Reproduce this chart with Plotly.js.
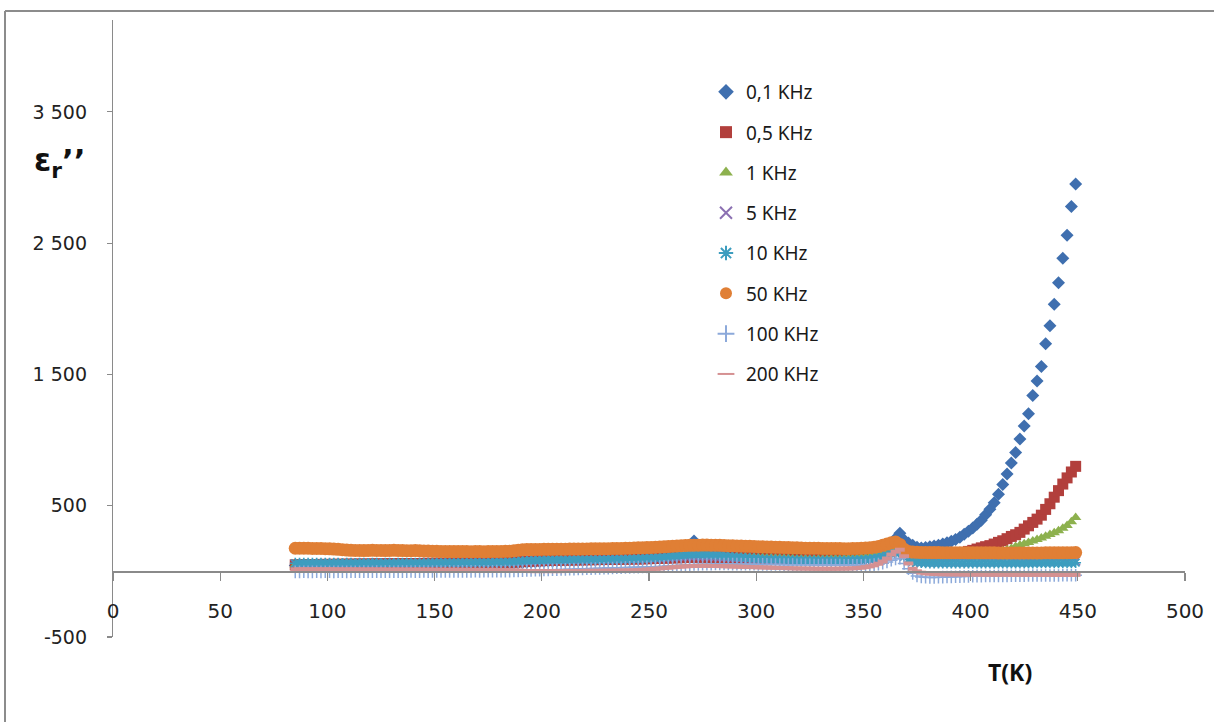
<!DOCTYPE html>
<html>
<head>
<meta charset="utf-8">
<script src="https://cdn.plot.ly/plotly-3.0.1.min.js"></script>
<style>
  html, body { margin: 0; padding: 0; background: #ffffff; }
  #chart { width: 1214px; height: 722px; }
</style>
</head>
<body>
<div id="chart"></div>
<script>
// Temperature grid (K)
const temperature = [
  85, 87, 89, 91, 93, 95, 97, 99, 101, 103,
  105, 107, 109, 111, 113, 115, 117, 119, 121, 123,
  125, 127, 129, 131, 133, 135, 137, 139, 141, 143,
  145, 147, 149, 151, 153, 155, 157, 159, 161, 163,
  165, 167, 169, 171, 173, 175, 177, 179, 181, 183,
  185, 187, 189, 191, 193, 195, 197, 199, 201, 203,
  205, 207, 209, 211, 213, 215, 217, 219, 221, 223,
  225, 227, 229, 231, 233, 235, 237, 239, 241, 243,
  245, 247, 249, 251, 253, 255, 257, 259, 261, 263,
  265, 267, 269, 271, 273, 275, 277, 279, 281, 283,
  285, 287, 289, 291, 293, 295, 297, 299, 301, 303,
  305, 307, 309, 311, 313, 315, 317, 319, 321, 323,
  325, 327, 329, 331, 333, 335, 337, 339, 341, 343,
  345, 347, 349, 351, 353, 355, 357, 359, 361, 363,
  365, 367, 369, 371, 373, 375, 377, 379, 381, 383,
  385, 387, 389, 391, 393, 395, 397, 399, 401, 403,
  405, 407, 409, 411, 413, 415, 417, 419, 421, 423,
  425, 427, 429, 431, 433, 435, 437, 439, 441, 443,
  445, 447, 449
];

// Dielectric loss eps_r'' at each frequency
const loss01kHz = [
  44, 44, 45, 45, 45, 46, 46, 46, 47, 47,
  47, 48, 48, 48, 49, 49, 49, 50, 50, 50,
  51, 51, 51, 52, 52, 52, 53, 53, 53, 54,
  54, 54, 55, 55, 55, 56, 56, 56, 57, 57,
  57, 58, 58, 58, 59, 59, 60, 60, 61, 61,
  62, 63, 65, 67, 69, 71, 73, 75, 77, 78,
  79, 80, 81, 82, 83, 84, 85, 86, 87, 88,
  89, 90, 91, 92, 93, 94, 95, 96, 97, 98,
  99, 100, 101, 102, 103, 104, 106, 108, 110, 112,
  114, 116, 118, 232, 121, 121, 121, 120, 120, 119,
  118, 117, 116, 115, 114, 113, 112, 111, 110, 109,
  108, 107, 106, 105, 104, 104, 103, 103, 102, 102,
  102, 102, 102, 103, 103, 104, 105, 106, 108, 110,
  113, 117, 122, 128, 135, 145, 150, 165, 180, 205,
  250, 290, 238, 216, 199, 183, 178, 182, 187, 193,
  199, 208, 218, 229, 242, 260, 282, 306, 330, 358,
  390, 432, 474, 523, 588, 662, 742, 826, 905, 1008,
  1108, 1200, 1340, 1450, 1560, 1734, 1870, 2035, 2198, 2385,
  2560, 2780, 2950
];

const loss05kHz = [
  50, 51, 51, 52, 52, 52, 53, 53, 53, 54,
  54, 54, 55, 55, 55, 56, 56, 56, 57, 57,
  57, 58, 58, 58, 59, 59, 59, 60, 60, 60,
  61, 61, 61, 62, 62, 62, 63, 63, 63, 64,
  64, 64, 65, 65, 66, 66, 67, 67, 68, 68,
  69, 70, 72, 74, 76, 78, 80, 81, 82, 83,
  84, 85, 85, 86, 86, 87, 87, 88, 88, 89,
  89, 90, 90, 91, 91, 92, 92, 93, 93, 94,
  94, 95, 96, 97, 98, 99, 100, 101, 102, 103,
  104, 105, 106, 107, 107, 107, 106, 106, 105, 105,
  104, 104, 103, 103, 102, 102, 101, 101, 100, 100,
  99, 99, 98, 98, 97, 97, 96, 96, 96, 95,
  95, 95, 95, 95, 96, 96, 97, 98, 99, 100,
  102, 104, 107, 110, 115, 122, 132, 145, 160, 178,
  182, 196, 160, 128, 112, 106, 104, 104, 105, 107,
  110, 115, 120, 125, 131, 137, 144, 152, 160, 170,
  179, 188, 196, 208, 221, 233, 249, 266, 279, 297,
  322, 347, 373, 398, 428, 472, 515, 565, 615, 665,
  712, 757, 800
];

const loss1kHz = [
  48, 48, 49, 49, 49, 50, 50, 50, 51, 51,
  51, 52, 52, 52, 53, 53, 53, 54, 54, 54,
  55, 55, 55, 56, 56, 56, 57, 57, 57, 58,
  58, 58, 59, 59, 59, 60, 60, 60, 61, 61,
  61, 62, 62, 62, 63, 63, 64, 64, 65, 65,
  66, 68, 71, 74, 77, 80, 82, 84, 85, 86,
  87, 88, 88, 89, 89, 90, 90, 91, 91, 92,
  92, 93, 93, 94, 94, 95, 95, 96, 97, 98,
  99, 100, 101, 102, 104, 106, 108, 110, 112, 114,
  116, 117, 118, 119, 119, 118, 118, 117, 116, 115,
  114, 113, 112, 111, 110, 109, 108, 107, 106, 105,
  104, 103, 102, 101, 100, 99, 98, 97, 96, 96,
  95, 95, 95, 95, 95, 96, 96, 97, 98, 99,
  100, 102, 105, 108, 112, 118, 126, 136, 148, 160,
  165, 172, 140, 115, 102, 96, 94, 93, 93, 93,
  95, 97, 99, 102, 105, 108, 112, 116, 120, 125,
  130, 134, 139, 145, 150, 155, 165, 175, 189, 200,
  210, 220, 232, 243, 255, 267, 280, 295, 310, 328,
  350, 378, 410
];

const loss5kHz = [
  54, 54, 54, 55, 55, 55, 56, 56, 56, 57,
  57, 57, 57, 58, 58, 58, 58, 59, 59, 59,
  59, 60, 60, 60, 60, 61, 61, 61, 61, 62,
  62, 62, 62, 63, 63, 63, 63, 64, 64, 64,
  64, 65, 65, 65, 66, 66, 66, 67, 67, 68,
  69, 70, 72, 74, 76, 78, 80, 81, 82, 82,
  83, 83, 84, 84, 85, 85, 86, 86, 86, 87,
  87, 88, 88, 89, 89, 90, 90, 91, 91, 92,
  93, 94, 95, 96, 98, 100, 102, 104, 106, 108,
  110, 112, 113, 114, 114, 113, 112, 111, 110, 108,
  106, 104, 102, 100, 98, 96, 94, 92, 90, 89,
  88, 87, 86, 85, 84, 83, 82, 81, 80, 80,
  79, 79, 79, 78, 78, 78, 78, 79, 79, 80,
  81, 82, 84, 86, 89, 93, 98, 106, 118, 132,
  140, 150, 115, 90, 78, 72, 70, 69, 68, 68,
  68, 68, 68, 68, 69, 69, 69, 69, 70, 70,
  70, 70, 71, 71, 71, 72, 72, 72, 73, 73,
  73, 74, 74, 75, 75, 76, 76, 77, 77, 78,
  78, 79, 80
];

const loss10kHz = [
  62, 63, 63, 62, 63, 63, 62, 63, 62, 62,
  62, 61, 62, 62, 61, 62, 62, 61, 62, 62,
  61, 62, 62, 61, 62, 62, 62, 63, 62, 63,
  63, 63, 64, 63, 64, 64, 64, 65, 64, 65,
  65, 65, 66, 66, 66, 67, 67, 68, 68, 69,
  70, 72, 75, 78, 80, 82, 83, 84, 84, 85,
  85, 85, 86, 86, 86, 87, 87, 87, 88, 88,
  88, 88, 89, 89, 90, 90, 91, 92, 93, 94,
  95, 96, 98, 100, 102, 105, 108, 111, 114, 117,
  120, 123, 125, 127, 127, 126, 125, 124, 122, 120,
  117, 114, 111, 108, 105, 102, 99, 96, 94, 92,
  90, 89, 88, 87, 86, 85, 84, 83, 82, 82,
  81, 81, 80, 80, 80, 80, 80, 81, 81, 82,
  83, 85, 87, 90, 94, 99, 106, 115, 126, 136,
  138, 145, 112, 88, 75, 69, 66, 64, 63, 63,
  62, 62, 62, 62, 62, 62, 62, 62, 62, 62,
  62, 62, 62, 62, 62, 63, 63, 63, 63, 63,
  63, 63, 63, 64, 64, 64, 64, 64, 65, 65,
  65, 65, 66
];

const loss50kHz = [
  176, 177, 176, 176, 175, 175, 174, 173, 172, 170,
  168, 165, 162, 160, 159, 159, 158, 159, 160, 159,
  159, 158, 159, 160, 159, 158, 157, 157, 158, 157,
  156, 155, 154, 153, 152, 152, 151, 151, 152, 151,
  151, 150, 151, 151, 150, 151, 152, 151, 152, 153,
  154, 157, 161, 164, 166, 166, 167, 167, 168, 168,
  168, 169, 169, 169, 170, 170, 170, 171, 171, 172,
  172, 172, 173, 173, 174, 174, 175, 176, 177, 178,
  179, 180, 181, 182, 184, 186, 188, 190, 192, 194,
  196, 197, 198, 199, 199, 200, 200, 199, 199, 198,
  197, 196, 195, 194, 193, 192, 191, 190, 188, 187,
  186, 185, 184, 183, 182, 181, 180, 179, 178, 177,
  177, 176, 176, 175, 175, 174, 174, 174, 173, 173,
  174, 175, 176, 178, 180, 184, 190, 198, 208, 218,
  224, 205, 168, 152, 147, 145, 144, 144, 143, 143,
  143, 142, 142, 142, 142, 142, 142, 141, 141, 141,
  141, 141, 141, 141, 140, 140, 140, 140, 140, 140,
  140, 140, 140, 140, 140, 141, 141, 141, 141, 141,
  142, 142, 143
];

const loss100kHz = [
  -4, -4, -3, -4, -4, -3, -4, -3, -3, -4,
  -3, -3, -4, -3, -3, -3, -2, -3, -3, -2,
  -3, -2, -2, -3, -2, -2, -2, -1, -2, -2,
  -1, -2, -1, -1, -1, -1, 0, -1, 0, 0,
  0, 0, 1, 0, 1, 1, 1, 2, 1, 2,
  2, 3, 4, 5, 6, 7, 8, 9, 10, 11,
  12, 13, 14, 15, 16, 17, 18, 19, 20, 21,
  22, 23, 24, 25, 26, 27, 28, 29, 30, 31,
  32, 33, 34, 35, 36, 37, 38, 40, 42, 44,
  46, 48, 50, 52, 53, 54, 55, 55, 56, 56,
  56, 56, 55, 55, 55, 54, 54, 54, 53, 53,
  53, 52, 52, 52, 51, 51, 51, 50, 50, 50,
  50, 49, 49, 49, 48, 48, 48, 48, 47, 47,
  47, 47, 47, 48, 49, 51, 55, 62, 72, 85,
  95, 100, 60, 20, -15, -35, -42, -45, -46, -46,
  -45, -44, -43, -42, -41, -40, -39, -38, -37, -36,
  -36, -35, -35, -35, -34, -34, -34, -33, -33, -33,
  -33, -32, -32, -32, -32, -31, -31, -31, -31, -30,
  -30, -30, -30
];

const loss200kHz = [
  15, 15, 16, 15, 15, 16, 15, 15, 16, 15,
  15, 14, 15, 15, 14, 15, 14, 14, 15, 14,
  14, 14, 13, 14, 14, 13, 14, 13, 13, 14,
  13, 13, 13, 12, 13, 12, 12, 13, 12, 12,
  12, 12, 11, 12, 11, 11, 12, 11, 11, 11,
  10, 8, 6, 4, 3, 2, 2, 2, 2, 2,
  2, 2, 2, 3, 3, 3, 3, 3, 4, 4,
  4, 4, 5, 5, 5, 6, 6, 7, 8, 9,
  10, 12, 14, 16, 19, 22, 25, 28, 31, 34,
  36, 38, 40, 41, 42, 42, 42, 41, 41, 40,
  39, 38, 37, 36, 35, 34, 33, 32, 31, 30,
  29, 28, 27, 26, 25, 24, 23, 22, 22, 21,
  21, 20, 20, 20, 20, 20, 20, 21, 21, 22,
  23, 25, 28, 32, 38, 46, 58, 75, 98, 128,
  150, 165, 115, 60, 20, 0, -10, -15, -18, -20,
  -21, -22, -22, -23, -23, -23, -24, -24, -24, -24,
  -24, -25, -25, -25, -25, -25, -25, -26, -26, -26,
  -26, -26, -26, -26, -26, -27, -27, -27, -27, -27,
  -27, -27, -27
];

const seriesNames = ['0,1 KHz', '0,5 KHz', '1 KHz', '5 KHz', '10 KHz', '50 KHz', '100 KHz', '200 KHz'];
const seriesValues = [loss01kHz, loss05kHz, loss1kHz, loss5kHz, loss10kHz, loss50kHz, loss100kHz, loss200kHz];

const yTickVals = [-500, 500, 1500, 2500, 3500];
const yTickText = ['-500', '500', '1 500', '2 500', '3 500'];

// Marker styling per series
const markerStyles = [
  { symbol: 'diamond', size: 10, color: '#3F6FAF' },
  { symbol: 'square', size: 11, color: '#B23F3C' },
  { symbol: 'triangle-up', size: 10, color: '#8DB14E' },
  { symbol: 'x-thin-open', size: 9, color: '#8B70B2', line: { width: 1.5, color: '#8B70B2' } },
  { symbol: 'asterisk-open', size: 9, color: '#3D9DBF', line: { width: 1.6, color: '#3D9DBF' } },
  { symbol: 'circle', size: 13, color: '#E07F35' },
  { symbol: 'cross-thin-open', size: 9, color: '#8CA9DA', line: { width: 1.5, color: '#8CA9DA' } },
  { symbol: 'line-ew-open', size: 7, color: '#D59192', line: { width: 4, color: '#D59192' } }
];

const traces = seriesNames.map((name, i) => ({
  type: 'scatter',
  mode: 'markers',
  name: name,
  legendgroup: 'g' + i,
  x: temperature,
  y: seriesValues[i],
  marker: Object.assign({}, markerStyles[i], markerStyles[i].line ? {} : { line: { width: 0 } }),
  cliponaxis: false,
  hoverinfo: 'x+y+name'
}));

// Plot-area geometry in pixels
const W = 1214, H = 722;
const plotLeft = 113, plotRight = 1185, plotTop = 20, plotBottom = 637;
const xRange = [0, 500];
const yRange = [-500, 4200];
const px = x => (x - plotLeft) / (plotRight - plotLeft);
const py = y => (plotBottom - y) / (plotBottom - plotTop);
const axisGray = '#8A8A8A';
const frameGray = '#8C8C8C';

const layout = {
  width: W,
  height: H,
  margin: { l: plotLeft, r: W - plotRight, t: plotTop, b: H - plotBottom, pad: 0 },
  paper_bgcolor: '#ffffff',
  plot_bgcolor: '#ffffff',
  showlegend: true,
  font: { family: 'DejaVu Sans', color: '#222222' },
  xaxis: {
    range: xRange,
    tick0: 0,
    dtick: 50,
    anchor: 'free',
    position: (0 - yRange[0]) / (yRange[1] - yRange[0]),
    showline: true,
    linecolor: axisGray,
    linewidth: 1.2,
    ticks: 'outside',
    ticklen: 8,
    tickwidth: 1.2,
    tickcolor: axisGray,
    ticklabelstandoff: 13,
    tickfont: { family: 'DejaVu Sans', size: 20, color: '#222222' },
    showgrid: false,
    zeroline: false
  },
  yaxis: {
    range: yRange,
    tickvals: yTickVals,
    ticktext: yTickText,
    showline: true,
    linecolor: axisGray,
    linewidth: 1.2,
    ticks: 'outside',
    ticklen: 5,
    tickwidth: 1.2,
    tickcolor: axisGray,
    ticklabelstandoff: 16,
    tickfont: { family: 'DejaVu Sans', size: 19, color: '#222222' },
    showgrid: false,
    zeroline: false
  },
  legend: {
    x: px(706),
    y: py(73),
    xanchor: 'left',
    yanchor: 'top',
    bgcolor: 'rgba(0,0,0,0)',
    borderwidth: 0,
    traceorder: 'grouped',
    tracegroupgap: 12.6,
    itemsizing: 'constant',
    font: { family: 'Noto Sans', size: 19, color: '#1a1a1a' }
  },
  annotations: [
    {
      xref: 'paper', yref: 'paper',
      x: px(32), y: py(163),
      xanchor: 'left', yanchor: 'middle',
      showarrow: false,
      text: '<b>ε<sub>r</sub>’’</b>',
      font: { family: 'DejaVu Sans', size: 31, color: '#111111' }
    },
    {
      xref: 'paper', yref: 'paper',
      x: px(1010), y: py(672),
      xanchor: 'center', yanchor: 'middle',
      showarrow: false,
      text: '<b>T(K)</b>',
      font: { family: 'Open Sans', size: 23, color: '#111111' }
    }
  ],
  shapes: [
    {
      type: 'line', xref: 'paper', yref: 'paper', layer: 'above',
      x0: px(5), x1: px(W + 5), y0: py(11), y1: py(11),
      line: { color: frameGray, width: 2 }
    },
    {
      type: 'line', xref: 'paper', yref: 'paper', layer: 'above',
      x0: px(5), x1: px(5), y0: py(11), y1: py(H + 5),
      line: { color: frameGray, width: 2 }
    }
  ]
};

Plotly.newPlot('chart', traces, layout, { displayModeBar: false, staticPlot: true });
</script>
</body>
</html>
